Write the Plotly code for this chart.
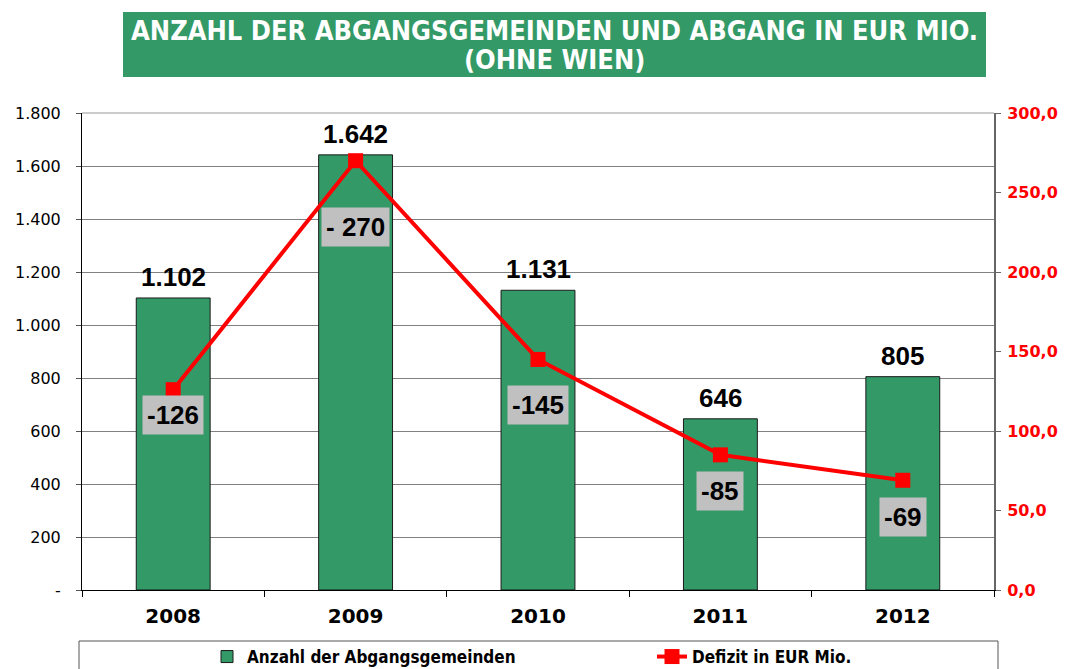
import plotly.graph_objects as go

years = ["2008", "2009", "2010", "2011", "2012"]
anzahl = [1102, 1642, 1131, 646, 805]
anzahl_labels = ["1.102", "1.642", "1.131", "646", "805"]
defizit = [126, 270, 145, 85, 69]
defizit_labels = ["-126", "- 270", "-145", "-85", "-69"]
left_tickvals = [0, 200, 400, 600, 800, 1000, 1200, 1400, 1600, 1800]
left_ticktext = ["-", "200", "400", "600", "800", "1.000", "1.200", "1.400", "1.600", "1.800"]
right_tickvals = [0, 50, 100, 150, 200, 250, 300]
right_ticktext = ["0,0", "50,0", "100,0", "150,0", "200,0", "250,0", "300,0"]
title_lines = ["ANZAHL DER ABGANGSGEMEINDEN UND ABGANG IN EUR MIO.", "(OHNE WIEN)"]

# pixel offsets of the grey value boxes below the line markers
label_offsets = [-25, -66, -46, -36, -37]

GREEN = "#339966"
RED = "#FF0000"
NARROW = "Liberation Sans Narrow, Arial Narrow, DejaVu Sans Condensed, sans-serif"
ARIAL = "Liberation Sans, Arial, sans-serif"
VERDANA = "Verdana, DejaVu Sans, sans-serif"

OFF = 8  # page body margin
W, H = 1067 - OFF, 669 - OFF
L, T = 82 - OFF, 113 - OFF
R = W - (994 - OFF)
B = H - (590 - OFF)
pw, ph = W - L - R, H - T - B


def px_x(px):
    return (px - OFF - L) / pw


def px_y(py):
    return (H - B - (py - OFF)) / ph


fig = go.Figure()
fig.add_trace(go.Bar(
    x=years, y=anzahl, name="Anzahl der Abgangsgemeinden",
    marker=dict(color=GREEN, line=dict(color="#1a1a1a", width=1)),
    yaxis="y", legend="legend",
))
fig.add_trace(go.Scatter(
    x=years, y=defizit, name="Defizit in EUR Mio.", mode="lines+markers",
    line=dict(color=RED, width=4),
    marker=dict(symbol="square", size=15, color=RED),
    yaxis="y2", legend="legend2",
))

annotations = []
for i, (v, t) in enumerate(zip(anzahl, anzahl_labels)):
    annotations.append(dict(x=i, y=v, xref="x", yref="y", text=t, showarrow=False,
                            yanchor="bottom", yshift=4,
                            font=dict(family=ARIAL, size=26, color="black", weight="bold")))
for i, (v, t, off) in enumerate(zip(defizit, defizit_labels, label_offsets)):
    annotations.append(dict(x=i, y=v, xref="x", yref="y2", text=t, showarrow=False,
                            yanchor="middle", yshift=off, bgcolor="#C0C0C0", borderpad=4,
                            font=dict(family=ARIAL, size=26, color="black", weight="bold")))
for line_text, cy in zip(title_lines, [31, 60]):
    annotations.append(dict(
        x=px_x((123 + 986) / 2), y=px_y(cy), xref="paper", yref="paper",
        xanchor="center", yanchor="middle", showarrow=False, text=line_text,
        font=dict(family=NARROW, size=27, color="white", weight="bold"),
    ))

shapes = [
    dict(type="rect", xref="paper", yref="paper",
         x0=px_x(123), x1=px_x(986), y0=px_y(77), y1=px_y(12),
         fillcolor=GREEN, line=dict(width=0), layer="below"),
    dict(type="rect", xref="paper", yref="paper",
         x0=px_x(79), x1=px_x(998), y0=px_y(690), y1=px_y(641),
         fillcolor="rgba(0,0,0,0)", line=dict(color="#555555", width=1)),
    dict(type="line", xref="paper", yref="paper", x0=0, x1=1, y0=1, y1=1,
         line=dict(color="#999999", width=1)),
]

legend_font = dict(family=NARROW, size=17, color="black", weight="bold")

fig.update_layout(
    width=W, height=H,
    margin=dict(l=L, r=R, t=T, b=B, autoexpand=False),
    paper_bgcolor="white", plot_bgcolor="white",
    bargap=0.595,
    showlegend=True,
    legend=dict(orientation="h", xref="container", yref="container",
                x=(207 - OFF) / W, y=1 - (657 - OFF) / H, xanchor="left", yanchor="middle",
                font=legend_font, bgcolor="rgba(0,0,0,0)"),
    legend2=dict(orientation="h", xref="container", yref="container",
                 x=(652 - OFF) / W, y=1 - (657 - OFF) / H, xanchor="left", yanchor="middle",
                 font=legend_font, bgcolor="rgba(0,0,0,0)"),
    xaxis=dict(type="category", categoryorder="array", categoryarray=years,
               range=[-0.5, len(years) - 0.5], autorange=False,
               showline=True, linecolor="black", linewidth=1,
               ticks="outside", ticklen=6, tickcolor="black", tickson="boundaries",
               ticklabelstandoff=8,
               tickfont=dict(family=VERDANA, size=20, color="black", weight="bold"),
               showgrid=False),
    yaxis=dict(range=[0, 1800], tickvals=left_tickvals, ticktext=left_ticktext,
               showline=True, linecolor="black", linewidth=1,
               ticks="outside", ticklen=5, tickcolor="#555555",
               showgrid=True, gridcolor="#808080", gridwidth=1,
               ticklabelstandoff=12,
               tickfont=dict(family=VERDANA, size=16, color="black"), zeroline=False),
    yaxis2=dict(range=[0, 300], overlaying="y", side="right", tickvals=right_tickvals,
                ticktext=right_ticktext, showline=True, linecolor="#666666", linewidth=2,
                ticks="outside", ticklen=5, tickcolor="#666666", showgrid=False,
                zeroline=False, ticklabelstandoff=3,
                tickfont=dict(family=VERDANA, size=16, color=RED, weight="bold")),
    annotations=annotations,
    shapes=shapes,
)

fig.write_html("out.html")
